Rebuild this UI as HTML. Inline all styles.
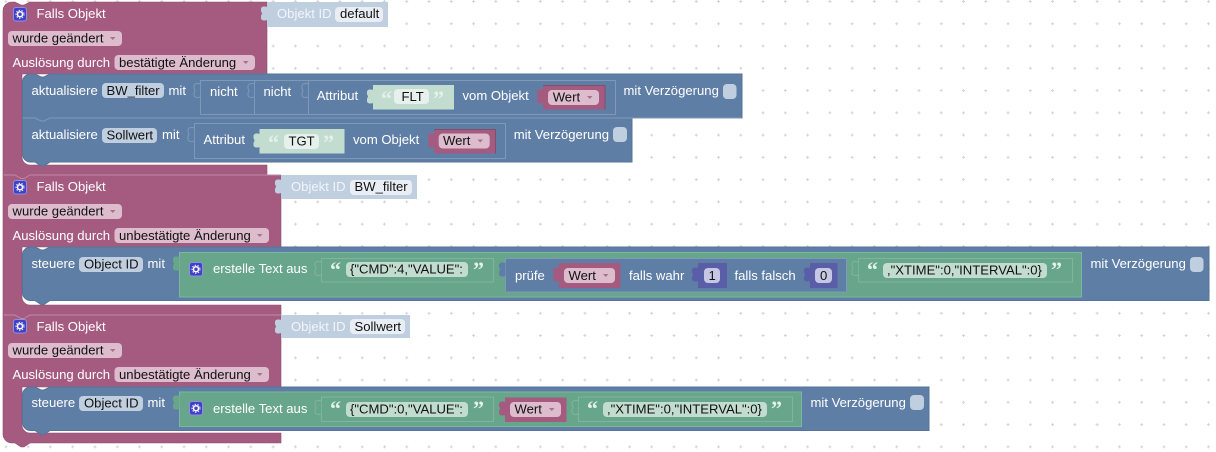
<!DOCTYPE html>
<html><head><meta charset="utf-8">
<style>
html,body{margin:0;padding:0;background:#fff;width:1216px;height:452px;overflow:hidden}
svg{display:block}
text{font-family:"Liberation Sans",Arial,sans-serif;font-size:13.1px;fill:#fff;white-space:pre}
.d{fill:#111}
.o{fill:#f1f5f9}
.q{font-family:"Liberation Serif",serif;font-size:22px;font-weight:bold;fill:#e4f0ea}
.m{fill:#a55b80}
.b{fill:#5f7ea6}
.g{fill:#67a68a}
.pk{fill:#dcbccd}
.bf{fill:#c0cfe0}
.tf{fill:#c2ddd0}
.ef{fill:#e6f0ec}
.a{fill:#a9708f}
</style></head><body>
<svg width="1216" height="452" viewBox="0 0 1216 452" xmlns="http://www.w3.org/2000/svg">
<defs>
<pattern id="grid" x="3.4" y="-1" width="22.27" height="22.27" patternUnits="userSpaceOnUse">
<path d="M1 2.5h3M2.5 1v3" stroke="#d4d4d4" stroke-width="1" fill="none"/>
</pattern>
<path id="t" d="M0.5 4 C-3 3 -6 3.500 -6 6 V8 C-6 9 -5 9.500 -5 10.500 C-5 11.500 -6 12 -6 13 V15 C-6 17.500 -3 18 0.500 17 Z"/>
<g id="gear"><rect x="0.5" y="0.5" width="13" height="13.500" rx="2.500" fill="#4140c8" stroke="#8f8fe0"/><circle cx="7" cy="7.200" r="2.500" fill="none" stroke="#fff" stroke-width="1.500"/><circle cx="7" cy="7.200" r="4" fill="none" stroke="#fff" stroke-width="1" stroke-dasharray="1.400 1.500"/></g>
<path id="ar" d="M0 0h5.500l-2.750 3z"/>
</defs>
<rect width="1216" height="452" fill="#fff"/>
<rect width="1216" height="452" fill="url(#grid)"/>

<!-- ===== magenta hat blocks ===== -->
<path class="m" stroke="#8e4c6d" stroke-width="0.6" d="M3 434a9 9 0 0 0 9 9h3l6 4h3l6-4H281V433H30a8 8 0 0 1-8-8V387H281V315H3Z"/>
<path class="m" stroke="#8e4c6d" stroke-width="0.6" d="M3 175H281V247H22V297a8 8 0 0 0 8 8H281V315H30l-6 4h-3l-6-4H3Z"/>
<path class="m" stroke="#8e4c6d" stroke-width="0.6" d="M3 11a9 9 0 0 1 9-9h3l6 3h3l6-3H267V74H22V157a8 8 0 0 0 8 8H267V175H30l-6 4h-3l-6-4H3Z"/>
<path d="M3.500 175H15l6 3.500h3l6-3.500H281" fill="none" stroke="#c08aa6" stroke-width="1"/>
<path d="M3.500 315H15l6 3.500h3l6-3.500H281" fill="none" stroke="#c08aa6" stroke-width="1"/>

<!-- block 1 -->
<use href="#gear" x="13" y="7"/>
<text x="36.500" y="18">Falls Objekt</text>
<rect class="pk" x="8" y="31" width="114" height="15" rx="4"/><text class="d" x="12.500" y="42.500">wurde geändert</text><use href="#ar" class="a" x="110" y="37"/>
<text x="12.500" y="67">Auslösung durch</text>
<rect class="pk" x="114.500" y="55" width="140.500" height="15" rx="4"/><text class="d" x="119" y="67">bestätigte Änderung</text><use href="#ar" class="a" x="243" y="61"/>
<path class="bf" d="M267 2H388V27H267Z"/><use href="#t" class="bf" x="267" y="3"/>
<text class="o" x="277" y="18">Objekt ID</text>
<rect x="335" y="7" width="48" height="15" rx="4" fill="#e9eef4"/><text class="d" x="340" y="18">default</text>

<!-- block 2 -->
<use href="#gear" x="13" y="180"/>
<text x="36.500" y="191">Falls Objekt</text>
<rect class="pk" x="8" y="204" width="114" height="15" rx="4"/><text class="d" x="12.500" y="215.500">wurde geändert</text><use href="#ar" class="a" x="110" y="210"/>
<text x="12.500" y="240">Auslösung durch</text>
<rect class="pk" x="114.500" y="228" width="154.500" height="15" rx="4"/><text class="d" x="119" y="240">unbestätigte Änderung</text><use href="#ar" class="a" x="257" y="234"/>
<path class="bf" d="M281 175H417V199H281Z"/><use href="#t" class="bf" x="281" y="176"/>
<text class="o" x="291" y="191">Objekt ID</text>
<rect x="350" y="180" width="62" height="15" rx="4" fill="#e9eef4"/><text class="d" x="354.500" y="191">BW_filter</text>

<!-- block 3 -->
<use href="#gear" x="13" y="319"/>
<text x="36.500" y="331">Falls Objekt</text>
<rect class="pk" x="8" y="343" width="114" height="15" rx="4"/><text class="d" x="12.500" y="354.500">wurde geändert</text><use href="#ar" class="a" x="110" y="349"/>
<text x="12.500" y="379">Auslösung durch</text>
<rect class="pk" x="114.500" y="367" width="154.500" height="15" rx="4"/><text class="d" x="119" y="379">unbestätigte Änderung</text><use href="#ar" class="a" x="257" y="373"/>
<path class="bf" d="M281 315H410V338H281Z"/><use href="#t" class="bf" x="281" y="316"/>
<text class="o" x="291" y="331">Objekt ID</text>
<rect x="350" y="319" width="55" height="15" rx="4" fill="#e9eef4"/><text class="d" x="354.500" y="331">Sollwert</text>

<!-- ===== blue statement: block 1 ===== -->
<path class="b" stroke="#56749b" stroke-width="1" d="M22.500 82a8 8 0 0 1 8-8H35l6 3h3l6-3H742V118H632V162H50l-6 4h-3l-6-4H30.500a8 8 0 0 1-8-8Z"/>
<path d="M22.500 118H35l6 3h3l6-3H742" fill="none" stroke="#7f98b8" stroke-width="1"/>
<text x="31.500" y="95">aktualisiere</text>
<rect class="bf" x="102" y="83" width="62" height="15" rx="4"/><text class="d" x="106.500" y="95">BW_filter</text>
<text x="168.500" y="95">mit</text>
<g stroke="#7f99ba" stroke-width="1" fill="#5f7ea6">
<path d="M200.500 80.500H615.500V114.500H200.500Z"/>
<path d="M254.500 80.500V114.500M308.500 80.500V114.500" fill="none"/>
<use href="#t" x="200" y="80"/><use href="#t" x="254" y="80"/><use href="#t" x="308" y="80"/>
</g>
<path d="M200.900 84h1.400v14h-1.400zM254.900 84h1.400v14h-1.400zM308.900 84h1.400v14h-1.400z" class="b"/>
<text x="210" y="96">nicht</text>
<text x="263.500" y="96">nicht</text>
<text x="316.700" y="100">Attribut</text>
<path class="tf" d="M373 85H454V109.500H373Z"/><use href="#t" class="tf" x="373" y="86"/>
<text class="q" x="381" y="106">“</text>
<rect class="ef" x="394" y="89" width="35" height="15" rx="4"/><text class="d" x="401.500" y="101">FLT</text>
<text class="q" x="433" y="106">”</text>
<text x="462.500" y="100">vom Objekt</text>
<path class="m" d="M543 85H605V109.500H543Z"/><use href="#t" class="m" x="543" y="86"/>
<path d="M543 85.500H605V109.500" fill="none" stroke="#7f4f6e" stroke-width="1"/>
<rect class="pk" x="548" y="90" width="51" height="15" rx="4"/><text class="d" x="552.700" y="101.500">Wert</text><use href="#ar" class="a" x="587" y="96"/>
<text x="623.500" y="95">mit Verzögerung</text>
<rect class="bf" x="723" y="84" width="13.500" height="15" rx="4"/>

<text x="31.500" y="139">aktualisiere</text>
<rect class="bf" x="102" y="128" width="55" height="15" rx="4"/><text class="d" x="106.500" y="139.500">Sollwert</text>
<text x="162" y="139">mit</text>
<g stroke="#7f99ba" stroke-width="1" fill="#5f7ea6">
<path d="M194.500 123.500H505.500V158.500H194.500Z"/>
<use href="#t" x="194" y="124"/>
</g>
<path d="M194.900 128h1.400v14h-1.400z" class="b"/>
<text x="203.500" y="144">Attribut</text>
<path class="tf" d="M259.500 129H344.500V153.500H259.500Z"/><use href="#t" class="tf" x="259.500" y="130"/>
<text class="q" x="268" y="150">“</text>
<rect class="ef" x="284" y="134" width="35" height="15" rx="4"/><text class="d" x="288.500" y="145.500">TGT</text>
<text class="q" x="323" y="150">”</text>
<text x="353" y="144">vom Objekt</text>
<path class="m" d="M434 129H495.500V153.500H434Z"/><use href="#t" class="m" x="434" y="130"/>
<path d="M434 129.500H495.500V153.500" fill="none" stroke="#7f4f6e" stroke-width="1"/>
<rect class="pk" x="438.700" y="133.500" width="51" height="15" rx="4"/><text class="d" x="443" y="145">Wert</text><use href="#ar" class="a" x="477.500" y="139.500"/>
<text x="513.700" y="139">mit Verzögerung</text>
<rect class="bf" x="613" y="127" width="14" height="15" rx="4"/>

<!-- ===== blue statement: block 2 ===== -->
<path class="b" stroke="#56749b" stroke-width="1" d="M22.500 255a8 8 0 0 1 8-8H35l6 3h3l6-3H1209V300.500H50l-6 4h-3l-6-4H30.500a8 8 0 0 1-8-8Z"/>
<text x="31.500" y="268">steuere</text>
<rect class="bf" x="79" y="257" width="64" height="15" rx="4"/><text class="d" x="84" y="268.500">Object ID</text>
<text x="147.500" y="268">mit</text>
<path class="g" stroke="#7db69c" stroke-width="1" d="M179.500 252.500H1081.500V297H179.500Z"/><use href="#t" class="g" x="179" y="253"/>
<use href="#gear" x="189" y="262"/>
<text x="213" y="273">erstelle Text aus</text>
<g stroke="#80b49d" stroke-width="1" fill="#67a68a">
<path d="M321.500 258.500H493.500V282H321.500Z"/><use href="#t" x="321" y="258"/>
<path d="M858.500 258.500H1072.500V282H858.500Z"/><use href="#t" x="858" y="258"/>
</g>
<path class="g" d="M321.800 262h1.400v12h-1.400zM858.800 262h1.400v12h-1.400z"/>
<text class="q" x="330" y="277">“</text>
<rect class="tf" x="346" y="262" width="122" height="15" rx="4"/><text class="d" x="350" y="273.500">{"CMD":4,"VALUE":</text>
<text class="q" x="473" y="277">”</text>
<path class="b" stroke="#7f99ba" stroke-width="1" d="M505.500 258.500H846.500V292H505.500Z"/><use href="#t" class="b" x="505" y="259"/>
<text x="515" y="280">prüfe</text>
<path class="m" d="M559 263H620.500V288H559Z"/><use href="#t" class="m" x="559" y="264"/>
<rect class="pk" x="564" y="268" width="51" height="15" rx="4"/><text class="d" x="568.500" y="280">Wert</text><use href="#ar" class="a" x="603" y="274"/>
<text x="629" y="280">falls wahr</text>
<path d="M698 263H727V288H698Z" fill="#5a5ea6"/><use href="#t" x="698" y="264" fill="#5a5ea6"/>
<rect x="704" y="268" width="16" height="15" rx="4" fill="#c6c7e4"/><text class="d" x="708.500" y="280">1</text>
<text x="734.500" y="280">falls falsch</text>
<path d="M810 263H837.500V288H810Z" fill="#5a5ea6"/><use href="#t" x="810" y="264" fill="#5a5ea6"/>
<rect x="815" y="268" width="17" height="15" rx="4" fill="#c6c7e4"/><text class="d" x="820" y="280">0</text>
<text class="q" x="867" y="277">“</text>
<rect class="tf" x="883" y="263" width="164" height="15" rx="4"/><text class="d" x="887" y="274.500">,"XTIME":0,"INTERVAL":0}</text>
<text class="q" x="1051" y="277">”</text>
<text x="1090.500" y="268">mit Verzögerung</text>
<rect class="bf" x="1190" y="257" width="13.500" height="15" rx="4"/>

<!-- ===== blue statement: block 3 ===== -->
<path class="b" stroke="#56749b" stroke-width="1" d="M22.500 395a8 8 0 0 1 8-8H35l6 3h3l6-3H929V430.500H50l-6 4h-3l-6-4H30.500a8 8 0 0 1-8-8Z"/>
<text x="31.500" y="407">steuere</text>
<rect class="bf" x="79" y="396" width="64" height="15" rx="4"/><text class="d" x="84" y="407.500">Object ID</text>
<text x="147.500" y="407">mit</text>
<path class="g" stroke="#7db69c" stroke-width="1" d="M179.500 392H801.500V426.500H179.500Z"/><use href="#t" class="g" x="179" y="392"/>
<use href="#gear" x="189" y="401"/>
<text x="213" y="413">erstelle Text aus</text>
<g stroke="#80b49d" stroke-width="1" fill="#67a68a">
<path d="M321.500 397H493.500V421.500H321.500Z"/><use href="#t" x="321" y="397"/>
<path d="M578.500 397H792.500V421.500H578.500Z"/><use href="#t" x="578" y="397"/>
</g>
<path class="g" d="M321.800 401h1.400v12h-1.400zM578.800 401h1.400v12h-1.400z"/>
<text class="q" x="330" y="416">“</text>
<rect class="tf" x="346" y="402" width="122" height="15" rx="4"/><text class="d" x="350" y="413.500">{"CMD":0,"VALUE":</text>
<text class="q" x="473" y="416">”</text>
<path class="m" d="M505 397.500H566.500V422H505Z"/><use href="#t" class="m" x="505" y="398"/>
<rect class="pk" x="510" y="402" width="51" height="15" rx="4"/><text class="d" x="514.500" y="413.500">Wert</text><use href="#ar" class="a" x="549" y="408"/>
<text class="q" x="587" y="416">“</text>
<rect class="tf" x="603" y="402" width="164" height="15" rx="4"/><text class="d" x="607" y="413.500">,"XTIME":0,"INTERVAL":0}</text>
<text class="q" x="771" y="416">”</text>
<text x="810.500" y="407">mit Verzögerung</text>
<rect class="bf" x="910" y="395" width="14" height="15" rx="4"/>
</svg>
</body></html>
